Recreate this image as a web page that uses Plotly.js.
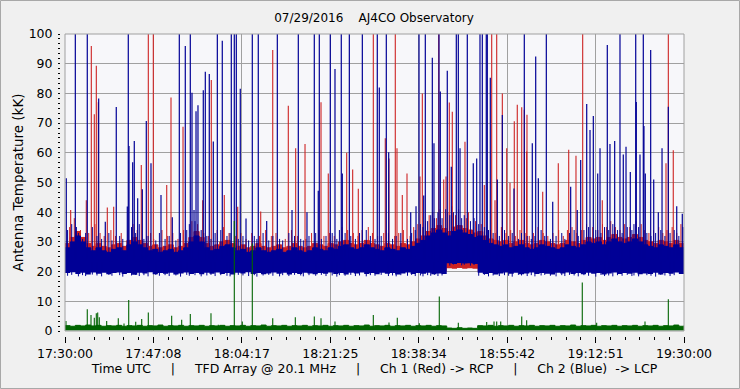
<!DOCTYPE html>
<html><head><meta charset="utf-8">
<script src="https://cdn.plot.ly/plotly-3.0.1.min.js"></script>
<style>html,body{margin:0;padding:0;background:#f0f0f0;overflow:hidden}</style>
</head><body><div id="chart" style="width:740px;height:389px"></div>
<script>
// x in minutes after 17:30:00 UTC
const tickPos = [0, 17.143, 34.286, 51.429, 68.571, 85.714, 102.857, 120];
const tickLabels = ["17:30:00","17:47:08","18:04:17","18:21:25","18:38:34","18:55:42","19:12:51","19:30:00"];
const minutes = [0,1,2,3,4,5,6,7,8,9,10,11,12,13,14,15,16,17,18,19,20,21,22,23,24,25,26,27,28,29,30,31,32,33,34,35,36,37,38,39,40,41,42,43,44,45,46,47,48,49,50,51,52,53,54,55,56,57,58,59,60,61,62,63,64,65,66,67,68,69,70,71,72,73,74,75,76,77,78,79,80,81,82,83,84,85,86,87,88,89,90,91,92,93,94,95,96,97,98,99,100,101,102,103,104,105,106,107,108,109,110,111,112,113,114,115,116,117,118,119,120];

// Ch 2 (blue) dense noise band: lower and upper envelopes (kK)
const blueLow = [19.5,19.8,19.2,19.6,19.0,19.7,19.3,19.6,19.1,19.5,
 19.7,19.2,19.5,18.9,19.6,19.4,19.8,19.1,19.5,19.3,
 19.6,19.0,19.4,19.7,19.2,19.5,19.1,19.6,19.3,19.7,
 19.2,19.5,19.0,19.6,19.4,19.8,19.2,19.5,19.1,19.4,
 19.7,19.3,19.6,19.0,19.5,19.2,19.6,19.4,19.1,19.5,
 19.3,19.7,19.2,19.5,19.0,19.6,19.4,19.7,19.2,19.5,
 19.1,19.6,19.3,19.5,19.0,19.4,19.7,19.2,19.5,19.3,
 19.6,19.1,19.4,19.2,
 22.8,22.6,22.9,22.7,22.8,22.6,
 19.6,19.2,19.5,19.0,19.4,19.7,19.3,19.6,19.1,19.4,
 19.7,19.2,19.5,19.3,19.0,19.6,19.4,19.7,19.2,19.5,
 19.1,19.6,19.3,19.5,19.0,19.4,19.7,19.2,19.5,19.3,
 19.6,19.1,19.4,19.2,19.6,19.0,19.5,19.3,19.7,19.2,
 19.4];
const blueTop = [28,30,32,30,28,27,28,27,26.5,27.5,
 28,27,29,30,29,28,27,27.5,26.5,27,
 27.5,26.5,27,28,30,32,30,28,27,27.5,
 28.5,29,28,27,27.5,26.5,27,28,27,26.5,
 27,27.5,26.5,27,28,27,26.5,27,28,27.5,
 27,28,27.5,28.5,29,28,27.5,28,29,28,
 27.5,27,28,27.5,27,28,27.5,28.5,29.5,30.5,
 32,33,34,33,32,33.5,34,33,32.5,31.5,
 32,30.5,29.5,29,28.5,29,28,28.5,29,28,
 27.5,28,29,28.5,28,27.5,28,29,28.5,28,
 29,30,29.5,30,29,30,31,30,29.5,30,
 31,30,29,28.5,28,29,28.5,28,29,28,
 27.5];
// Ch 1 (red) band
const redLow = [20,20,20,20,20,20,20,20,20,20,20,20,20,20,20,20,20,20,20,20,
 20,20,20,20,20,20,20,20,20,20,20,20,20,20,20,20,20,20,20,20,
 20,20,20,20,20,20,20,20,20,20,20,20,20,20,20,20,20,20,20,20,
 20,20,20,20,20,20,20,20,20,20,20,20,20,20,
 21.1,21.0,21.2,21.0,21.1,21.0,
 20,20,20,20,20,20,20,20,20,20,20,20,20,20,20,20,20,20,20,20,
 20,20,20,20,20,20,20,20,20,20,20,20,20,20,20,20,20,20,20,20,20];
const redTop = [29.5,31.5,33.5,31.5,29.5,28.5,29.5,28.5,28,29,
 29.5,28.5,30.5,31.5,30.5,29.5,28.5,29,28,28.5,
 29,28,28.5,29.5,31.5,33.5,31.5,29.5,28.5,29,
 30,30.5,29.5,28.5,29,28,28.5,29.5,28.5,28,
 28.5,29,28,28.5,29.5,28.5,28,28.5,29.5,29,
 28.5,29.5,29,30,30.5,29.5,29,29.5,30.5,29.5,
 29,28.5,29.5,29,28.5,29.5,29,30,31,32,
 33.5,34.5,35.5,34.5,33.5,35,35.5,34.5,34,33,
 33.5,32,31,30.5,30,30.5,29.5,30,30.5,29.5,
 29,29.5,30.5,30,29.5,29,29.5,30.5,30,29.5,
 30.5,31.5,31,31.5,30.5,31.5,32.5,31.5,31,31.5,
 32.5,31.5,30.5,30,29.5,30.5,30,29.5,30.5,29.5,
 29];
// difference channel (green) baseline band
const greenTop = [1.8,1.6,1.9,1.7,2.0,1.7,1.9,1.6,1.8,1.7,
 1.9,1.6,1.8,1.7,1.9,1.6,1.8,1.7,2.0,1.6,
 1.8,1.7,1.9,1.6,1.8,1.7,1.9,1.6,1.8,1.7,
 1.9,1.6,1.8,1.7,1.9,1.6,1.8,1.7,2.0,1.6,
 1.8,1.7,1.9,1.6,1.8,1.7,1.9,1.6,1.8,1.7,
 1.9,1.6,1.8,1.7,1.9,1.6,1.8,1.7,2.0,1.6,
 1.8,1.7,1.9,1.6,1.8,1.7,1.9,1.6,1.8,1.7,
 1.9,1.6,1.8,1.7,
 1.0,0.9,1.1,0.9,1.0,0.9,
 1.8,1.7,1.9,1.6,1.8,1.7,1.9,1.6,1.8,1.7,
 1.9,1.6,1.8,1.7,1.9,1.6,1.8,1.7,2.0,1.6,
 1.8,1.7,1.9,1.6,1.8,1.7,1.9,1.6,1.8,1.7,
 1.9,1.6,1.8,1.7,1.9,1.6,1.8,1.7,2.0,1.6,
 1.8];
const greenLow = 0.15;

// short noise tips above (value) and dips below (dip) the blue band
const blueTipT = [0.5,1.3,2.6,3.4,4.0,5.3,6.2,7.1,8.5,9.1,10.6,11.2,12.9,13.7,14.4,15.3,16.1,17.6,18.3,19.4,20.2,21.5,22.4,23.6,24.1,25.2,26.4,27.5,28.3,29.1,30.2,31.4,32.0,33.6,34.5,35.6,36.7,37.2,38.4,39.5,40.3,41.6,42.2,43.4,44.5,45.7,46.2,47.3,48.6,49.7,50.6,51.8,52.7,53.2,54.3,55.4,56.3,57.1,58.4,59.2,60.1,61.3,62.7,63.5,64.2,65.1,66.4,67.2,67.9,68.9,69.4,70.3,70.9,71.6,72.3,73.1,73.8,74.6,75.3,76.9,77.4,78.6,79.3,80.2,81.3,82.1,83.0,84.2,85.2,86.0,86.7,87.9,88.5,89.6,90.4,91.1,92.3,93.0,94.1,95.2,96.3,96.9,97.8,98.7,99.5,100.6,101.5,102.9,103.9,104.6,105.4,106.2,107.1,108.0,109.0,109.9,110.3,111.2,112.8,113.6,114.5,115.5,116.3,117.3,118.1,119.0,119.8];
const blueTipV = [34,36,33,31,33,35,32,31,33,30.5,32,31,35,33,36,31,32,30.5,33,31,32,30.5,33,34,36,37,34,32,31,33,34,32,33,31,32,30.5,32,31,33,30.5,32,31,30.5,33,32,31,30.5,32,33,31,32,33,31,34,33,32,31,33,34,32,31,32,33,31,32,33,31,33,34,36,35,37,39,38,40,38,41,39,40,38,39,37,38,36,35,34,33,32,34,32,33,31,33,32,31,32,34,32,31,32,33,31,33,34,32,34,35,34,33,35,34,36,34,33,35,34,36,35,33,32,33,34,32,33,34,32,35];
const blueDipV = [18.6,18.9,18.4,18.8,18.5,19.0,18.7,18.4,18.9,18.6,18.8,18.3,18.7,18.9,18.5,18.8,18.4,18.9,18.6,18.8,18.5,18.7,18.3,18.9,18.6,18.8,18.4,18.7,18.9,18.5,18.8,18.6,18.4,18.9,18.7,18.5,18.8,18.3,18.7,18.9,18.6,18.4,18.8,18.5,18.9,18.7,18.4,18.8,18.6,18.9,18.5,18.7,18.3,18.8,18.6,18.9,18.5,18.7,18.4,18.8,18.6,18.9,18.5,18.7,18.4,18.8,18.6,18.9,18.5,18.7,18.4,18.8,18.6,18.9,18.5,18.7,22.3,22.0,22.4,22.1,22.3,22.0,22.2,18.6,18.9,18.4,18.7,18.5,18.8,18.6,18.3,18.9,18.7,18.5,18.8,18.4,18.7,18.9,18.6,18.4,18.8,18.5,18.9,18.7,18.4,18.8,18.6,18.3,18.9,18.5,18.7,18.4,18.8,18.6,18.9,18.5,18.7,18.4,18.8,18.6,18.3,18.9,18.7,18.5,18.8];
const redTipT = [0.9,1.8,3.0,4.6,5.8,6.8,7.6,8.9,9.8,10.9,12.2,13.2,14.0,15.8,16.6,17.2,18.8,19.9,20.9,21.9,23.0,24.6,25.7,26.9,27.8,29.5,30.7,31.8,33.1,34.1,35.1,36.2,37.7,38.9,40.0,40.9,42.7,43.9,45.1,46.7,47.8,49.2,50.2,51.3,52.2,53.7,54.8,55.9,56.8,57.6,58.8,59.6,60.6,61.8,62.2,63.9,64.7,65.6,66.9,67.6,68.4,69.9,70.6,71.3,72.0,72.7,74.2,75.0,75.7,76.3,77.8,78.2,79.6,80.7,81.7,82.5,83.4,84.6,85.5,86.4,87.3,88.2,89.2,90.0,90.8,91.7,92.7,93.6,94.6,95.7,96.6,97.4,98.3,99.2,100.1,101.1,102.3,103.3,104.2,105.0,105.8,106.7,107.6,108.5,109.5,110.7,111.7,112.3,113.2,114.1,115.1,115.9,116.7,117.7,118.6,119.4];
const redTipV = [35,38,34,33,36,33,32,34,32,33,34,36,34,32,33,31,34,32,33,31,34,37,36,33,32,34,35,33,32,33,31,33,32,34,32,33,31,34,32,31,33,34,32,33,32,35,34,33,32,34,35,33,32,33,34,32,33,34,32,35,36,37,39,40,38,41,40,42,39,41,38,40,37,36,35,34,33,35,33,34,32,34,33,32,33,35,33,32,33,34,32,34,35,33,34,36,35,34,36,35,37,35,34,36,35,37,36,34,33,34,35,33,34,35,33,36];

// spikes: time (min after 17:30) and peak value (kK); 100 = clipped at top
const blueSpikeT = [2.00,4.32,12.27,22.16,24.29,29.53,32.24,32.82,33.21,36.31,37.47,41.16,45.23,48.33,49.30,51.43,53.56,55.12,57.64,60.54,62.29,68.63,69.85,72.50,75.86,76.25,77.99,80.45,80.90,81.67,81.87,89.04,93.31,107.59,110.64,112.11,
 6.53,9.94,15.76,23.32,24.62,25.40,25.78,26.81,27.20,27.97,30.49,33.98,52.34,60.93,71.21,72.76,74.11,82.45,84.78,91.25,101.14,102.42,105.13,110.75,112.24,113.54,116.96,
 0.25,2.19,7.81,12.08,12.41,13.12,13.43,14.09,14.99,16.67,18.61,20.80,25.01,28.75,35.09,39.10,44.01,46.91,49.10,53.76,62.75,67.02,68.05,69.54,71.53,74.89,76.58,79.15,79.81,83.81,87.04,90.59,91.76,94.55,98.03,99.31,99.97,101.78,103.27,103.72,105.65,106.56,108.23,108.76,109.59,111.47,112.50,114.13,115.02,115.74,118.59,119.67];
const blueSpikeV = [100,100,100,100,100,100,100,100,100,100,100,100,100,100,100,100,100,100,100,100,100,100,100,100,100,100,100,100,100,100,100,100,100,100,100,100,
 78.3,75.4,70.7,96,80.2,74,76,81.1,87.3,86.5,97.7,81.6,88.2,82,92,80.6,87.6,85.3,72.7,92.4,76.4,72.4,96.3,77.1,69,94.6,75.5,
 51.4,35,36.8,41.9,62.3,56.8,64,44.7,47.7,56.5,45.8,38.3,40.7,63.8,37.9,37,40.7,40,47.2,53,60.2,40,42,45.6,63.2,55.3,61.5,56.5,58.1,51,48,63.2,51.4,43.5,48.6,40.7,57.6,67.7,53,61.5,63,64,59.4,62,53.5,59.4,53,51,40,61.5,42,39.5];
const redSpikeT = [16.15,17.12,59.77,64.03,72.45,82.72,83.69,100.36,116.96,
 5.10,5.68,6.07,6.46,20.55,22.88,28.36,40.27,43.29,49.63,69.27,74.50,75.08,84.78,87.10,87.68,88.54,89.04,89.56,
 1.10,4.13,8.20,9.44,14.79,19.72,26.69,30.88,33.48,37.94,44.72,46.53,51.04,54.61,55.77,56.86,62.09,62.81,64.36,65.39,66.30,68.82,73.42,73.86,77.54,81.29,83.36,85.63,86.27,89.50,92.61,95.63,97.65,99.06,104.16,116.51,117.92];
const redSpikeV = [100,100,100,100,100,100,100,100,100,
 96,73,89.3,77,78.6,68.8,84.5,94.6,75.8,77,80,76.9,73.8,80,70.6,76.2,75.3,74.5,72.8,
 40.7,44,41.6,41.8,55.9,49.2,44,45.8,41.8,40.2,61.5,63,53,60,54.4,47.9,64.9,58.1,61.5,45.8,53,52,51,52,63.7,49.2,44,61.5,49.9,60.4,46.9,56.5,61,59,44,56.5,60.9];
const greenSpikeT = [0.19,4.32,5.04,5.68,6.07,6.34,6.65,8.08,10.33,11.44,12.35,13.71,14.87,16.15,20.68,22.62,24.29,28.30,29.72,32.82,34.37,36.31,40.27,44.65,48.33,49.63,52.34,59.77,62.81,64.42,68.69,72.56,76.25,81.75,83.17,83.69,84.47,88.54,89.50,100.28,103.07,112.44,116.96];
const greenSpikeV = [3.4,7.3,5.4,4.5,6.0,6.2,4.6,3.4,4.3,2.5,10.4,3.1,4.0,6.2,5.1,3.8,5.7,6.0,2.1,37,3.2,29.5,4.3,4.6,4.9,4.3,3.2,5.4,2.9,4.5,2.6,11.6,2.8,3.0,3.2,3.2,3.2,4.9,3.6,16.3,2.8,3.2,10.7];

const BLUE = 'rgb(0,0,150)', RED = 'rgb(205,35,35)', GREEN = 'rgb(0,100,0)';

function spikes(ts, vs, base) {
  const x = [], y = [];
  ts.forEach((t, i) => { x.push(t, t, null); y.push(base, vs[i], null); });
  return {x, y};
}
function line(s, color, w) {
  return {x: s.x, y: s.y, type: 'scatter', mode: 'lines', line: {color: color, width: w}, hoverinfo: 'skip', showlegend: false};
}
function band(low, top, color) {
  const lowArr = Array.isArray(low) ? low : minutes.map(() => low);
  return [
    {x: minutes, y: lowArr, type: 'scatter', mode: 'lines', line: {width: 0, shape: 'hv', color: color}, hoverinfo: 'skip', showlegend: false},
    {x: minutes, y: top, type: 'scatter', mode: 'lines', fill: 'tonexty', fillcolor: color, line: {width: 1, shape: 'hv', color: color}, hoverinfo: 'skip', showlegend: false}
  ];
}

const data = [
  ...band(redLow, redTop, RED),
  line(spikes(redTipT, redTipV, 26), RED, 1),
  line(spikes(redSpikeT, redSpikeV, 24), RED, 1.1),
  ...band(blueLow, blueTop, BLUE),
  line(spikes(blueTipT, blueTipV, 25), BLUE, 1),
  line(spikes(blueTipT, blueDipV, 23.5), BLUE, 1),
  line(spikes(blueSpikeT, blueSpikeV, 24), BLUE, 1.2),
  ...band(greenLow, greenTop, GREEN),
  line(spikes(greenSpikeT, greenSpikeV, 1), GREEN, 1.1)
];

const nb = '\u00A0';
const sep = nb.repeat(5) + '|' + nb.repeat(5);
const FONT = 'DejaVu Sans, Verdana, sans-serif';
const W = 624, H = 302;
const layout = {
  width: 740, height: 389,
  margin: {l: 60, r: 56, t: 34, b: 53, pad: 0},
  paper_bgcolor: '#f0f0f0',
  plot_bgcolor: '#f7f7fa',
  font: {family: FONT, size: 12, color: '#000'},
  showlegend: false,
  title: {text: '07/29/2016' + nb.repeat(4) + 'AJ4CO Observatory', x: 374/740, xref: 'container', xanchor: 'center', y: 1 - 18/389, yref: 'container', yanchor: 'middle', font: {family: FONT, size: 12, color: '#000'}},
  xaxis: {
    domain: [5/W, 1], range: [0, 120], anchor: 'free', position: 0,
    tickmode: 'array', tickvals: tickPos, ticktext: tickLabels,
    ticks: 'outside', ticklen: 6, tickcolor: '#000', tickwidth: 1,
    minor: {dtick: 120/42, tick0: 0, ticklen: 3, tickcolor: '#000', showgrid: false},
    showgrid: true, gridcolor: '#a0a0a0', gridwidth: 1,
    showline: false, zeroline: false,
    tickfont: {family: FONT, size: 12.5, color: '#000'},
    title: {text: 'Time UTC' + sep + 'TFD Array @ 20.1 MHz' + sep + 'Ch 1 (Red) -> RCP' + sep + 'Ch 2 (Blue)' + nb.repeat(2) + '-> LCP', standoff: 4, font: {family: FONT, size: 12.5, color: '#000'}}
  },
  yaxis: {
    domain: [5/H, 1], range: [0, 100], anchor: 'free', position: 0,
    tickmode: 'linear', tick0: 0, dtick: 10,
    ticks: 'outside', ticklen: 2, tickcolor: '#000', tickwidth: 1,
    minor: {dtick: 10/6, tick0: 0, ticklen: 2, tickcolor: '#000', showgrid: false},
    showgrid: true, gridcolor: '#a0a0a0', gridwidth: 1,
    showline: false, zeroline: false, ticklabelstandoff: 3,
    tickfont: {family: FONT, size: 12.5, color: '#000'},
    title: {text: 'Antenna Temperature (kK)', standoff: 0, font: {family: FONT, size: 13.5, color: '#000'}}
  },
  shapes: [
    {type: 'rect', xref: 'x domain', yref: 'y domain', x0: 0, x1: 1, y0: 0, y1: 1, line: {color: '#a0a0a0', width: 1}, layer: 'above'},
    {type: 'rect', xref: 'paper', yref: 'paper', x0: -59.5/W, x1: (W + 55.5)/W, y0: -52.5/H, y1: (H + 33.5)/H, line: {color: '#a8a8a8', width: 1}, layer: 'below'}
  ]
};
Plotly.newPlot('chart', data, layout, {staticPlot: true, displayModeBar: false});
</script>
</body></html>
